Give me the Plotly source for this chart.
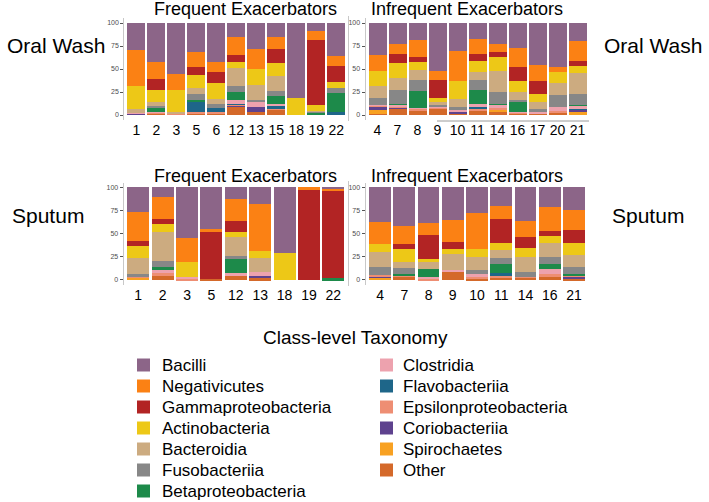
import plotly.graph_objects as go

CLASSES = ["Bacilli", "Negativicutes", "Gammaproteobacteria", "Actinobacteria", "Bacteroidia",
           "Fusobacteriia", "Betaproteobacteria", "Clostridia", "Flavobacteriia",
           "Epsilonproteobacteria", "Coriobacteriia", "Spirochaetes", "Other"]

COLORS = {"Bacilli": "#8C6588", "Negativicutes": "#FB8114", "Gammaproteobacteria": "#B22424",
          "Actinobacteria": "#EDC817", "Bacteroidia": "#CCAB80", "Fusobacteriia": "#878787",
          "Betaproteobacteria": "#1D8A4A", "Clostridia": "#EDA2AE", "Flavobacteriia": "#1E6689",
          "Epsilonproteobacteria": "#EE8E73", "Coriobacteriia": "#5E428E", "Spirochaetes": "#F8A122",
          "Other": "#D4692A"}

# ---- Frequent exacerbators, oral wash ----
FO_SAMPLES = ["1", "2", "3", "5", "6", "12", "13", "15", "18", "19", "22"]
FO = {
    "Bacilli":               [29, 42, 55, 31, 42, 15.4, 28, 15, 81, 8.5, 36],
    "Negativicutes":         [39, 19, 18, 16.5, 11, 19, 21.6, 13, 0, 10, 10.4],
    "Gammaproteobacteria":   [0, 12, 0, 8.5, 12.6, 8, 0, 16, 0, 71, 17.6],
    "Actinobacteria":        [26, 13.2, 23.4, 15, 17, 6.5, 17.4, 14, 19, 6, 6.3],
    "Bacteroidia":           [3.5, 3.8, 2, 6, 5.8, 20, 17, 16, 0, 1, 0],
    "Fusobacteriia":         [0.5, 2.8, 0, 6.7, 3.6, 6, 2, 5, 0, 1, 5.4],
    "Betaproteobacteria":    [0, 4.3, 0, 1.8, 0, 9, 0, 9.5, 0, 2.5, 20.7],
    "Clostridia":            [0.4, 0.9, 0.6, 0, 0, 3.6, 5, 1.5, 0, 0, 0],
    "Flavobacteriia":        [0, 0, 0, 10.9, 5.1, 1, 0, 3.5, 0, 0, 3.6],
    "Epsilonproteobacteria": [0.3, 1, 0.5, 2.1, 1.4, 1.5, 0, 1.5, 0, 0, 0],
    "Coriobacteriia":        [0.8, 0, 0, 0, 0, 1, 5.4, 0, 0, 0, 0],
    "Spirochaetes":          [0, 0, 0, 0, 0, 0, 0, 0, 0, 0, 0],
    "Other":                 [0.5, 1, 0.5, 1.5, 1.5, 9, 3.6, 5, 0, 0, 0],
}

# ---- Infrequent exacerbators, oral wash ----
IO_SAMPLES = ["4", "7", "8", "9", "10", "11", "14", "16", "17", "20", "21"]
IO = {
    "Bacilli":               [34.8, 23, 18.5, 52, 30.5, 17.4, 23, 27, 45.7, 47.5, 19.6],
    "Negativicutes":         [17.4, 11, 18, 10, 32.5, 16.6, 9, 20.5, 17.3, 5.5, 21.7],
    "Gammaproteobacteria":   [0, 9, 5.5, 20, 0, 7.3, 4.5, 15.5, 14, 0, 5.4],
    "Actinobacteria":        [16.3, 17, 9, 4, 20, 11.7, 15.5, 11.6, 9.2, 12, 7.3],
    "Bacteroidia":           [13.5, 12.5, 11, 3, 8, 9, 23.5, 9.1, 7.8, 13.3, 23.2],
    "Fusobacteriia":         [7.1, 15, 12, 2, 3.5, 11, 12, 2.5, 2.4, 12.7, 11.9],
    "Betaproteobacteria":    [0, 1.5, 18, 0, 0, 15.4, 1, 10.2, 0, 0, 1.1],
    "Clostridia":            [1.4, 2, 1.5, 1, 2.5, 2.6, 4, 1.1, 2.6, 4.7, 3.3],
    "Flavobacteriia":        [0, 0, 0, 0, 0, 3, 0, 0, 0, 0, 1.5],
    "Epsilonproteobacteria": [1, 1, 2, 1, 0, 2, 2, 1.5, 0, 1.8, 0],
    "Coriobacteriia":        [3.5, 1.5, 0.5, 0, 2, 0, 0.5, 0, 0, 0, 1.5],
    "Spirochaetes":          [3.5, 0, 0, 0, 0, 0, 2, 0, 0, 0, 3],
    "Other":                 [1.5, 6.5, 4, 7, 1, 4, 3, 1, 1, 2.5, 0.5],
}

# ---- Frequent exacerbators, sputum ----
FS_SAMPLES = ["1", "2", "3", "5", "12", "13", "18", "19", "22"]
FS = {
    "Bacilli":               [27, 10, 55, 45, 12.6, 18.3, 71.2, 0, 2.2],
    "Negativicutes":         [31, 24, 25.2, 2, 23.4, 50.4, 0, 1.8, 1.4],
    "Gammaproteobacteria":   [5, 5.6, 0, 52.3, 12.2, 0, 0, 98.2, 94.6],
    "Actinobacteria":        [13, 9, 16.2, 0, 5, 7.3, 28.8, 0, 0],
    "Bacteroidia":           [17.2, 30.9, 0, 0, 20.9, 15.7, 0, 0, 0],
    "Fusobacteriia":         [3.2, 6.1, 0, 0, 3.2, 0, 0, 0, 0],
    "Betaproteobacteria":    [0, 3.6, 0, 0, 14.8, 0, 0, 0, 1.8],
    "Clostridia":            [0, 3.5, 2, 0, 3.2, 4, 0, 0, 0],
    "Flavobacteriia":        [0, 0, 0, 0, 0, 0, 0, 0, 0],
    "Epsilonproteobacteria": [1.1, 2.6, 1.6, 0, 0, 0, 0, 0, 0],
    "Coriobacteriia":        [0, 0, 0, 0, 0, 2.3, 0, 0, 0],
    "Spirochaetes":          [2.5, 0, 0, 0, 0, 0, 0, 0, 0],
    "Other":                 [0, 4.7, 0, 0.7, 4.7, 2, 0, 0, 0],
}

# ---- Infrequent exacerbators, sputum ----
IS_SAMPLES = ["4", "7", "8", "9", "10", "11", "14", "16", "21"]
IS = {
    "Bacilli":               [37, 41.7, 38, 35.3, 28, 20, 36.3, 21, 25],
    "Negativicutes":         [24.2, 19.8, 13.5, 23.3, 38.5, 14.5, 16.9, 26, 21],
    "Gammaproteobacteria":   [0, 5, 25.8, 7.9, 0, 25.9, 11.9, 5.5, 14.4],
    "Actinobacteria":        [8.9, 14.5, 2.9, 5.1, 8.3, 7.2, 10.1, 7.5, 12.6],
    "Bacteroidia":           [15.9, 5.7, 8.3, 17.6, 14.4, 9, 15.8, 15.2, 12.6],
    "Fusobacteriia":         [8.6, 7.3, 0, 0, 4.3, 6.1, 5.4, 7.9, 8.4],
    "Betaproteobacteria":    [0, 1, 7.9, 0, 0, 10.1, 0, 5.4, 1],
    "Clostridia":            [0, 0, 2, 2.5, 2.9, 0, 0, 5.5, 0],
    "Flavobacteriia":        [0, 0, 0, 0, 0, 2.9, 0, 0, 0],
    "Epsilonproteobacteria": [1.8, 1.4, 1.6, 0, 1.6, 1.8, 1.1, 3, 1],
    "Coriobacteriia":        [1.1, 0, 0, 0, 0, 0, 0, 0, 3],
    "Spirochaetes":          [2.5, 0, 0, 0, 0, 0, 0, 0, 0],
    "Other":                 [0, 3.6, 0, 8.3, 2, 2.5, 2.5, 3, 1],
}

W, H = 709, 502
FONT = "Liberation Sans, Arial, sans-serif"

def px(x):
    return x / W

def py(y):
    return 1 - y / H

panels = [
    (FO_SAMPLES, FO, "x", "y", [px(124.3), px(348.3)], [py(119.6), py(18.4)]),
    (IO_SAMPLES, IO, "x2", "y2", [px(365.5), px(589.5)], [py(119.6), py(18.4)]),
    (FS_SAMPLES, FS, "x3", "y3", [px(123.6), px(348.0)], [py(284.6), py(182.7)]),
    (IS_SAMPLES, IS, "x4", "y4", [px(365.5), px(588.5)], [py(284.6), py(182.7)]),
]

fig = go.Figure()
stack_order = list(reversed(CLASSES))  # bottom -> top
for samples, data, xa, ya, _, _ in panels:
    for cls in stack_order:
        fig.add_trace(go.Bar(x=samples, y=data[cls], name=cls, marker_color=COLORS[cls],
                             marker_line_width=0, xaxis=xa, yaxis=ya, showlegend=False))

layout = dict(barmode="stack", bargap=0.1, width=W, height=H,
              margin=dict(l=0, r=0, t=0, b=0),
              paper_bgcolor="white", plot_bgcolor="white",
              font=dict(family=FONT, color="black"))

for i, (samples, data, xa, ya, xd, yd) in enumerate(panels):
    sfx = "" if i == 0 else str(i + 1)
    layout["xaxis" + sfx] = dict(domain=xd, anchor=ya, type="category",
                                 range=[-0.6, len(samples) - 0.4],
                                 showgrid=False, zeroline=False, showline=False,
                                 ticks="",
                                 tickfont=dict(size=14, color="black", family=FONT))
    layout["yaxis" + sfx] = dict(domain=yd, anchor=xa, range=[-5, 105],
                                 tickvals=[0, 25, 50, 75, 100],
                                 showgrid=False, zeroline=False,
                                 showline=True, linecolor="#C8C8C8", linewidth=1,
                                 ticks="outside", ticklen=3, tickcolor="#555555",
                                 tickfont=dict(size=7, color="#4D4D4D", family=FONT))
fig.update_layout(**layout)

annotations = []
def text(x, y, s, size, anchor="center"):
    annotations.append(dict(x=px(x), y=py(y), xref="paper", yref="paper", text=s,
                            showarrow=False, xanchor=anchor, yanchor="middle",
                            font=dict(size=size, family=FONT, color="black")))

text(245, 9, "Frequent Exacerbators", 18)
text(467, 9, "Infrequent Exacerbators", 18)
text(245, 176, "Frequent Exacerbators", 18)
text(467, 176, "Infrequent Exacerbators", 18)
text(56, 45, "Oral Wash", 21)
text(653, 45, "Oral Wash", 21)
text(48, 215, "Sputum", 21)
text(648, 215, "Sputum", 21)
text(355, 337, "Class-level Taxonomy", 19)

shapes = []
# light frame lines on the right edge of left panels
for y0, y1 in [(16, 121), (181, 286)]:
    shapes.append(dict(type="line", xref="paper", yref="paper", x0=px(348.5), x1=px(348.5),
                       y0=py(y1), y1=py(y0), line=dict(color="#C8C8C8", width=1)))
shapes.append(dict(type="line", xref="paper", yref="paper", x0=px(437), x1=px(589),
                   y0=py(121), y1=py(121), line=dict(color="#9A9A9A", width=1)))

# legend (two columns)
col1 = CLASSES[:7]
col2 = CLASSES[7:]
row_y = [365 + 21 * k for k in range(7)]
for colitems, sx, tx in [(col1, 137, 160), (col2, 380, 401)]:
    for k, cls in enumerate(colitems):
        yc = row_y[k]
        shapes.append(dict(type="rect", xref="paper", yref="paper",
                           x0=px(sx), x1=px(sx + 13), y0=py(yc + 6.5), y1=py(yc - 6.5),
                           fillcolor=COLORS[cls], line=dict(width=0)))
        text(tx, yc, cls, 17, anchor="left")

fig.update_layout(annotations=annotations, shapes=shapes)
fig.write_html("out.html", config={"displayModeBar": False},
               post_script="document.body.style.margin='0';document.body.style.overflow='hidden';")
